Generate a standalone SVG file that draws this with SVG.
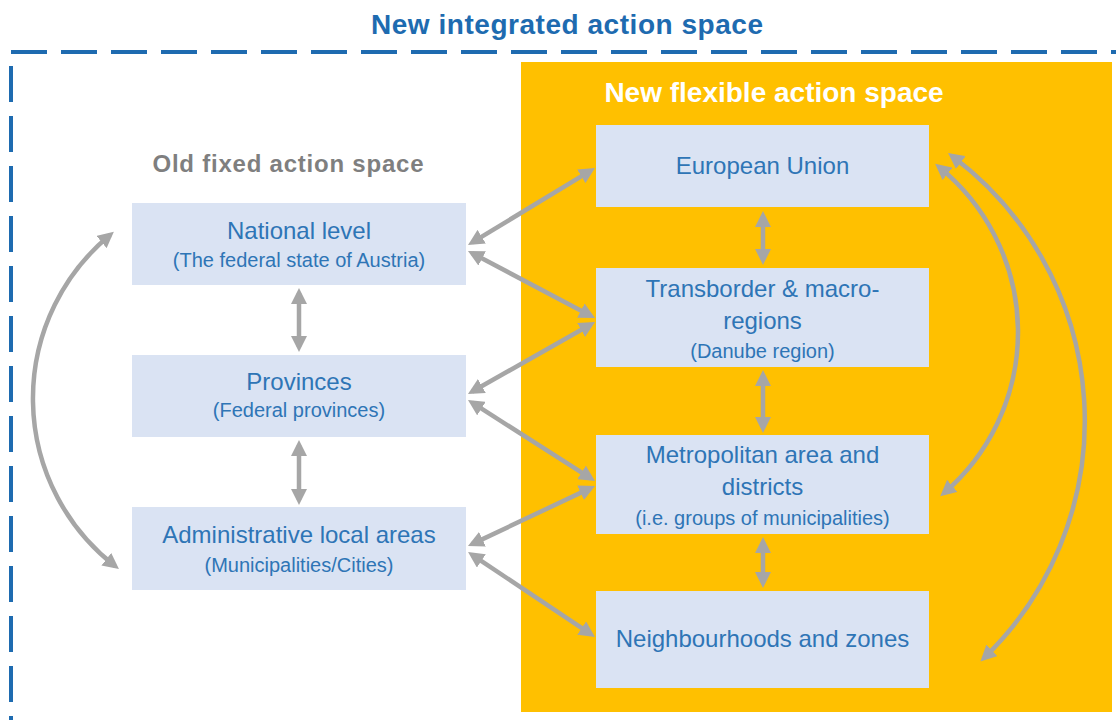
<svg xmlns="http://www.w3.org/2000/svg" width="1116" height="720" viewBox="0 0 1116 720">
<style>
.box{fill:#DAE3F3}
.t{font-family:"Liberation Sans",Arial,sans-serif;fill:#2E75B6;text-anchor:middle}
.m{font-size:24px}
.s{font-size:20px}
.h{font-family:"Liberation Sans",Arial,sans-serif;font-weight:bold;text-anchor:middle}
.c{fill:none;stroke:#A6A6A6;stroke-width:4.5;marker-start:url(#ah);marker-end:url(#ah)}
</style>
<defs>
<marker id="ah" viewBox="0 0 16 16" refX="11" refY="8" markerWidth="16" markerHeight="16" markerUnits="userSpaceOnUse" orient="auto-start-reverse">
<path d="M0,0 L16,8 L0,16 z" fill="#A6A6A6"/>
</marker>
</defs>
<rect width="1116" height="720" fill="#FFFFFF"/>
<g id="frame">
<rect x="11" y="52" width="1130" height="670" fill="none" stroke="#1E6BB0" stroke-width="4" stroke-dasharray="36 14"/>
<text class="h" x="567" y="34" font-size="28" fill="#1E6BB0" textLength="392">New integrated action space</text>
</g>
<g id="flexible-space">
<rect x="521" y="62" width="591" height="650" fill="#FFC000"/>
<text class="h" x="774" y="102" font-size="28" fill="#FFFFFF">New flexible action space</text>
</g>
<g id="old-space-label">
<text class="h" x="288" y="172" font-size="24" fill="#7F7F7F" textLength="271">Old fixed action space</text>
</g>
<g id="connectors">
<line class="c" x1="299" y1="293" x2="299" y2="347"/>
<line class="c" x1="299" y1="445" x2="299" y2="500"/>
<line class="c" x1="763" y1="216" x2="763" y2="260"/>
<line class="c" x1="763" y1="375" x2="763" y2="428"/>
<line class="c" x1="763" y1="542" x2="763" y2="583"/>
<line class="c" x1="472.3" y1="242.4" x2="590.7" y2="170.6"/>
<line class="c" x1="472.4" y1="253.3" x2="590.6" y2="315.7"/>
<line class="c" x1="472.3" y1="391.5" x2="590.7" y2="324.5"/>
<line class="c" x1="472.2" y1="402.7" x2="590.8" y2="478.3"/>
<line class="c" x1="472.5" y1="543.9" x2="590.5" y2="488.1"/>
<line class="c" x1="472.2" y1="554.8" x2="590.8" y2="634.2"/>
<path class="c" d="M110,235 A212,212 0 0 0 115,566"/>
<path class="c" d="M939,167 A212,212 0 0 1 944,493"/>
<path class="c" d="M952,156 A330,330 0 0 1 984,658"/>
</g>
<g id="national">
<rect class="box" x="132" y="203" width="334" height="82"/>
<text class="t m" x="299" y="239">National level</text>
<text class="t s" x="299" y="267">(The federal state of Austria)</text>
</g>
<g id="provinces">
<rect class="box" x="132" y="355" width="334" height="82"/>
<text class="t m" x="299" y="390">Provinces</text>
<text class="t s" x="299" y="417">(Federal provinces)</text>
</g>
<g id="local">
<rect class="box" x="132" y="507" width="334" height="83"/>
<text class="t m" x="299" y="543">Administrative local areas</text>
<text class="t s" x="299" y="572">(Municipalities/Cities)</text>
</g>
<g id="eu">
<rect class="box" x="596" y="125" width="333" height="82"/>
<text class="t m" x="762.5" y="174">European Union</text>
</g>
<g id="transborder">
<rect class="box" x="596" y="268" width="333" height="99"/>
<text class="t m" x="762.5" y="297">Transborder &amp; macro-</text>
<text class="t m" x="762.5" y="329">regions</text>
<text class="t s" x="762.5" y="358">(Danube region)</text>
</g>
<g id="metropolitan">
<rect class="box" x="596" y="435" width="333" height="99"/>
<text class="t m" x="762.5" y="463">Metropolitan area and</text>
<text class="t m" x="762.5" y="495">districts</text>
<text class="t s" x="762.5" y="525">(i.e. groups of municipalities)</text>
</g>
<g id="neighbourhoods">
<rect class="box" x="596" y="591" width="333" height="97"/>
<text class="t m" x="762.5" y="647">Neighbourhoods and zones</text>
</g>
</svg>
